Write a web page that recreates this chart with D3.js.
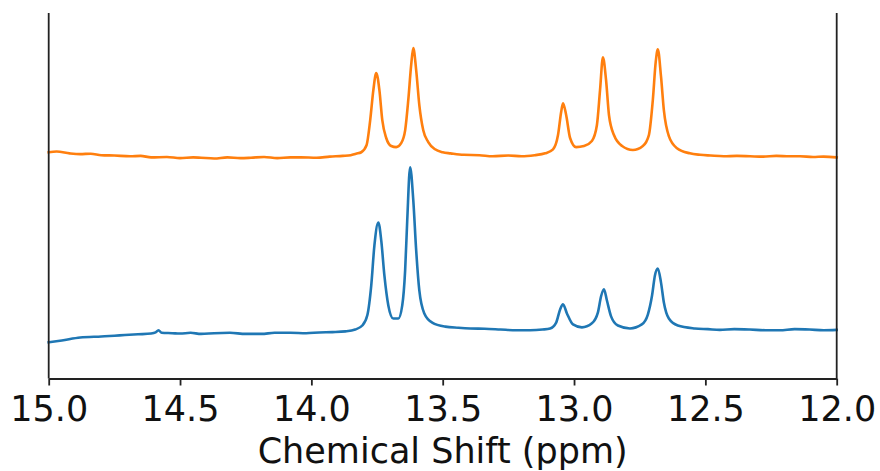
<!DOCTYPE html>
<html>
<head>
<meta charset="utf-8">
<script src="https://cdn.jsdelivr.net/npm/d3@7"></script>
<style>
  html, body { margin: 0; padding: 0; background: #fff; }
  svg { display: block; }
</style>
</head>
<body>
<svg id="chart" width="880" height="471"></svg>
<script>
// Chemical shift (ppm) and intensity (arbitrary units)
const orangePpm = [15.00, 14.97, 14.92, 14.88, 14.84, 14.80, 14.75, 14.69, 14.65, 14.61, 14.55, 14.50, 14.45, 14.42, 14.37, 14.32, 14.27, 14.23, 14.18, 14.13, 14.08, 14.04, 13.98, 13.93, 13.88, 13.85, 13.83, 13.81, 13.79, 13.776, 13.764, 13.753, 13.741, 13.73, 13.715, 13.696, 13.677, 13.658, 13.643, 13.631, 13.62, 13.612, 13.601, 13.589, 13.574, 13.555, 13.529, 13.50, 13.47, 13.42, 13.36, 13.31, 13.25, 13.20, 13.15, 13.11, 13.08, 13.061, 13.049, 13.042, 13.03, 13.015, 12.992, 12.962, 12.932, 12.913, 12.901, 12.89, 12.878, 12.867, 12.848, 12.817, 12.776, 12.738, 12.715, 12.70, 12.689, 12.681, 12.669, 12.658, 12.639, 12.608, 12.559, 12.52, 12.48, 12.43, 12.38, 12.33, 12.28, 12.23, 12.18, 12.14, 12.09, 12.05, 12.00];
const orangeVal = [61.9, 62.1, 61.6, 61.4, 61.5, 61.1, 61.0, 60.8, 60.9, 60.5, 60.6, 60.3, 60.5, 60.4, 60.2, 60.5, 60.3, 60.4, 60.6, 60.3, 60.5, 60.5, 60.4, 60.7, 60.9, 61.1, 61.5, 61.9, 63.8, 70.7, 78.9, 83.6, 78.9, 70.7, 65.8, 63.6, 63.3, 64.4, 67.9, 76.2, 85.8, 90.4, 84.4, 74.8, 67.9, 64.7, 62.7, 61.9, 61.6, 61.2, 61.1, 60.8, 61.0, 60.8, 61.1, 61.6, 62.7, 66.6, 72.9, 75.3, 72.1, 65.8, 63.3, 63.6, 65.0, 69.3, 78.9, 87.9, 81.6, 72.1, 66.6, 63.6, 62.5, 63.6, 66.6, 76.2, 86.6, 90.1, 82.7, 73.4, 66.3, 63.0, 61.6, 61.2, 61.0, 60.8, 60.9, 60.8, 60.7, 60.9, 60.8, 60.8, 60.6, 60.7, 60.5];

const bluePpm = [15.00, 14.95, 14.88, 14.80, 14.75, 14.71, 14.66, 14.61, 14.593, 14.582, 14.57, 14.53, 14.50, 14.46, 14.42, 14.37, 14.31, 14.25, 14.19, 14.14, 14.08, 14.02, 13.97, 13.92, 13.87, 13.833, 13.806, 13.787, 13.772, 13.76, 13.745, 13.734, 13.722, 13.707, 13.688, 13.669, 13.654, 13.643, 13.635, 13.624, 13.612, 13.601, 13.589, 13.57, 13.54, 13.49, 13.44, 13.395, 13.34, 13.28, 13.22, 13.167, 13.12, 13.091, 13.068, 13.053, 13.042, 13.027, 13.004, 12.97, 12.932, 12.909, 12.897, 12.886, 12.875, 12.859, 12.833, 12.787, 12.742, 12.719, 12.703, 12.692, 12.681, 12.669, 12.658, 12.639, 12.605, 12.54, 12.49, 12.445, 12.39, 12.331, 12.27, 12.217, 12.16, 12.103, 12.05, 12.00];
const blueVal = [9.9, 10.4, 11.2, 11.5, 11.7, 11.9, 12.1, 12.3, 12.6, 13.2, 12.5, 12.4, 12.3, 12.5, 12.2, 12.4, 12.5, 12.2, 12.2, 12.5, 12.5, 12.4, 12.6, 12.7, 12.9, 13.4, 14.5, 17.3, 25.5, 36.4, 42.7, 37.8, 28.2, 20.0, 16.4, 16.4, 20.0, 29.6, 43.3, 57.8, 48.8, 35.1, 24.1, 17.8, 15.3, 14.2, 13.9, 13.7, 13.6, 13.4, 13.2, 13.2, 13.4, 13.7, 15.3, 18.9, 20.3, 17.8, 14.8, 14.0, 15.1, 18.1, 22.5, 24.4, 21.4, 17.0, 14.5, 13.7, 14.8, 17.5, 22.7, 28.2, 30.1, 26.3, 20.8, 16.4, 14.5, 13.7, 13.5, 13.3, 13.5, 13.4, 13.2, 13.2, 13.5, 13.4, 13.2, 13.3];

const tickValues = [15.0, 14.5, 14.0, 13.5, 13.0, 12.5, 12.0];
const xLabel = "Chemical Shift (ppm)";

const svg = d3.select("#chart");
const plotL = 48.7, plotR = 836.7, plotT = 13, plotB = 378.5;

const x = d3.scaleLinear().domain([15, 12]).range([plotL, plotR]);
const y = d3.scaleLinear().domain([0, 100]).range([plotB, plotT]);

const line = d3.line()
  .x(d => x(d[0]))
  .y(d => y(d[1]))
  .curve(d3.curveMonotoneX);

const orange = orangePpm.map((p, i) => [p, orangeVal[i]]);
const blue = bluePpm.map((p, i) => [p, blueVal[i]]);

svg.append("path").datum(blue)
  .attr("d", line).attr("fill", "none")
  .attr("stroke", "#1f77b4").attr("stroke-width", 2.6)
  .attr("stroke-linejoin", "round").attr("stroke-linecap", "square");

svg.append("path").datum(orange)
  .attr("d", line).attr("fill", "none")
  .attr("stroke", "#ff7f0e").attr("stroke-width", 2.6)
  .attr("stroke-linejoin", "round").attr("stroke-linecap", "square");

// spines (no top spine visible)
const spine = svg.append("g").attr("stroke", "#222").attr("stroke-width", 1.8);
spine.append("line").attr("x1", plotL).attr("x2", plotL).attr("y1", plotT).attr("y2", plotB);
spine.append("line").attr("x1", plotR).attr("x2", plotR).attr("y1", plotT).attr("y2", plotB);

// x axis
const xAxis = d3.axisBottom(x)
  .tickValues(tickValues)
  .tickFormat(d3.format(".1f"))
  .tickSizeInner(7)
  .tickSizeOuter(0);

const gx = svg.append("g")
  .attr("transform", `translate(0,${plotB})`)
  .call(xAxis);
gx.select(".domain").attr("stroke", "#222").attr("stroke-width", 1.8);
gx.selectAll(".tick line").attr("stroke", "#222").attr("stroke-width", 1.8);
gx.selectAll(".tick text")
  .attr("fill", "#111")
  .attr("y", 421 - plotB)
  .attr("dy", 0)
  .style("font-family", "'DejaVu Sans', sans-serif")
  .style("font-size", "35px");

svg.append("text")
  .attr("x", (plotL + plotR) / 2)
  .attr("y", 463)
  .attr("text-anchor", "middle")
  .attr("fill", "#111")
  .style("font-family", "'DejaVu Sans', sans-serif")
  .style("font-size", "35px")
  .text(xLabel);
</script>
</body>
</html>
